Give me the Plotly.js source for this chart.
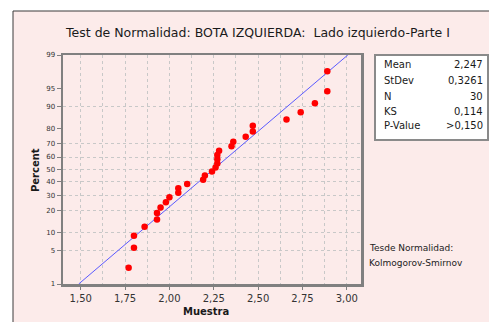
<!DOCTYPE html>
<html><head><meta charset="utf-8">
<script src="https://cdn.plot.ly/plotly-3.0.1.min.js"></script>
<style>html,body{margin:0;padding:0;background:#fff;overflow:hidden}</style>
</head><body><div id="chart" style="width:489px;height:322px"></div>
<script>
// Data
const muestra = [1.77, 1.80, 1.80, 1.86, 1.93, 1.93, 1.95, 1.98, 2.00, 2.05,
                 2.05, 2.10, 2.19, 2.20, 2.24, 2.26, 2.27, 2.27, 2.27, 2.28,
                 2.35, 2.36, 2.43, 2.47, 2.47, 2.66, 2.74, 2.82, 2.89, 2.89];
const percent = [2.3, 5.6, 8.9, 12.2, 15.5, 18.8, 22.0, 25.3, 28.6, 31.9,
                 35.2, 38.5, 41.8, 45.1, 48.4, 51.6, 54.9, 58.2, 61.5, 64.8,
                 68.1, 71.4, 74.7, 78.0, 81.3, 84.5, 87.8, 91.1, 94.4, 97.7];
const yTickPercents = [1, 5, 10, 20, 30, 40, 50, 60, 70, 80, 90, 95, 99];
const gridPercents = [5, 10, 20, 30, 40, 50, 60, 70, 90];
const fitPercents = [1, 99];
const statLabels = ['Mean', 'StDev', 'N', 'KS', 'P-Value'];
const statValues = ['2,247', '0,3261', '30', '0,114', '>0,150'];
const meanVal = 2.247, stdevVal = 0.3261;
const titleText = 'Test de Normalidad: BOTA IZQUIERDA:  Lado izquierdo-Parte I';
const noteLines = ['Tesde Normalidad:', 'Kolmogorov-Smirnov'];

// inverse normal CDF (Acklam)
function probit(p) {
  const a = [-3.969683028665376e+01, 2.209460984245205e+02, -2.759285104469687e+02, 1.383577518672690e+02, -3.066479806614716e+01, 2.506628277459239e+00];
  const b = [-5.447609879822406e+01, 1.615858368580409e+02, -1.556989798598866e+02, 6.680131188771972e+01, -1.328068155288572e+01];
  const c = [-7.784894002430293e-03, -3.223964580411365e-01, -2.400758277161838e+00, -2.549732539343734e+00, 4.374664141464968e+00, 2.938163982698783e+00];
  const d = [7.784695709041462e-03, 3.224671290700398e-01, 2.445134137142996e+00, 3.754408661907416e+00];
  const pl = 0.02425, ph = 1 - pl;
  let q, r;
  if (p < pl) { q = Math.sqrt(-2 * Math.log(p));
    return (((((c[0]*q+c[1])*q+c[2])*q+c[3])*q+c[4])*q+c[5]) / ((((d[0]*q+d[1])*q+d[2])*q+d[3])*q+1); }
  if (p <= ph) { q = p - 0.5; r = q*q;
    return (((((a[0]*r+a[1])*r+a[2])*r+a[3])*r+a[4])*r+a[5])*q / (((((b[0]*r+b[1])*r+b[2])*r+b[3])*r+b[4])*r+1); }
  q = Math.sqrt(-2 * Math.log(1 - p));
  return -(((((c[0]*q+c[1])*q+c[2])*q+c[3])*q+c[4])*q+c[5]) / ((((d[0]*q+d[1])*q+d[2])*q+d[3])*q+1);
}
const z = p => probit(p / 100);

const F = 'DejaVu Sans, Verdana, sans-serif';
const fitZ = fitPercents.map(z);
const fitX = fitZ.map(v => meanVal + stdevVal * v);

const traces = [
  { x: fitX, y: fitZ, mode: 'lines', line: { color: '#5a5aff', width: 1 }, hoverinfo: 'skip', showlegend: false },
  { x: muestra, y: percent.map(z), mode: 'markers', marker: { color: '#ff0000', size: 6.5 }, showlegend: false, cliponaxis: false }
];

// plot geometry helpers (margins)
const M = { l: 63, r: 128, t: 55, b: 38 };
const PW = 489 - M.l - M.r, PH = 322 - M.t - M.b;
const px = x => (x - M.l) / PW;
const py = y => (322 - M.b - y) / PH;

const annotations = [];
const rowY = [64, 80, 96, 111, 126];
statLabels.forEach((t, i) => {
  annotations.push({ xref: 'paper', yref: 'paper', x: px(382), y: py(rowY[i]), xanchor: 'left', yanchor: 'middle',
    text: t, showarrow: false, font: { family: F, size: 10, color: '#1a1a1a' } });
  annotations.push({ xref: 'paper', yref: 'paper', x: px(485), y: py(rowY[i]), xanchor: 'right', yanchor: 'middle',
    text: statValues[i], showarrow: false, font: { family: F, size: 10, color: '#1a1a1a' } });
});
noteLines.forEach((t, i) => {
  annotations.push({ xref: 'paper', yref: 'paper', x: px(367), y: py(248 + i * 15), xanchor: 'left', yanchor: 'middle',
    text: t, showarrow: false, font: { family: F, size: 9, color: '#222' } });
});
annotations.push({ xref: 'paper', yref: 'paper', x: px(35), y: py(170), xanchor: 'center', yanchor: 'middle', textangle: -90,
  text: '<b>Percent</b>', showarrow: false, font: { family: F, size: 10, color: '#1a1a1a' } });
annotations.push({ xref: 'paper', yref: 'paper', x: px(206), y: py(311), xanchor: 'center', yanchor: 'middle',
  text: '<b>Muestra</b>', showarrow: false, font: { family: F, size: 10, color: '#1a1a1a' } });

const shapes = [
  { type: 'rect', xref: 'paper', yref: 'paper', x0: px(13), x1: px(495), y0: py(330), y1: py(11), layer: 'below',
    fillcolor: '#fcebea', line: { color: '#3a3a3a', width: 1 } },
  { type: 'rect', xref: 'paper', yref: 'paper', x0: px(375), x1: px(488), y0: py(140), y1: py(55),
    fillcolor: '#ffffff', line: { color: '#8a8a8a', width: 2 } }
];

const layout = {
  width: 489, height: 322, margin: M,
  paper_bgcolor: '#ffffff', plot_bgcolor: '#ffffff',
  separators: ',.',
  title: { text: titleText, x: 258 / 489, xanchor: 'center', y: 1 - 33 / 322, yanchor: 'middle', xref: 'container', yref: 'container',
    font: { family: F, size: 12.5, color: '#1a1a1a' } },
  xaxis: {
    range: [1.40, 3.08], tick0: 1.5, dtick: 0.25, tickformat: '.2f',
    showgrid: true, gridcolor: '#c8c8c8', griddash: '3px,3px', gridwidth: 1,
    minor: { dtick: 0.125, tick0: 1.5, showgrid: true, gridcolor: '#c8c8c8', griddash: '3px,3px', gridwidth: 1 },
    ticks: 'outside', ticklen: 3, tickcolor: '#808080',
    showline: true, linecolor: '#808080', linewidth: 2.5, mirror: true, zeroline: false,
    tickfont: { family: F, size: 10, color: '#333' }
  },
  yaxis: {
    range: [z(1), z(99)], tickmode: 'array',
    tickvals: yTickPercents.map(z), ticktext: yTickPercents.map(String),
    showgrid: false,
    minor: { tickmode: 'array', tickvals: gridPercents.map(z), showgrid: true, gridcolor: '#c8c8c8', griddash: '3px,3px', gridwidth: 1, ticks: '' },
    ticks: 'outside', ticklen: 4, tickcolor: '#808080',
    showline: true, linecolor: '#808080', linewidth: 2.5, mirror: true, zeroline: false,
    tickfont: { family: F, size: 7, color: '#333' }
  },
  shapes: shapes,
  annotations: annotations
};

Plotly.newPlot('chart', traces, layout, { staticPlot: true, displayModeBar: false });
</script></body></html>
